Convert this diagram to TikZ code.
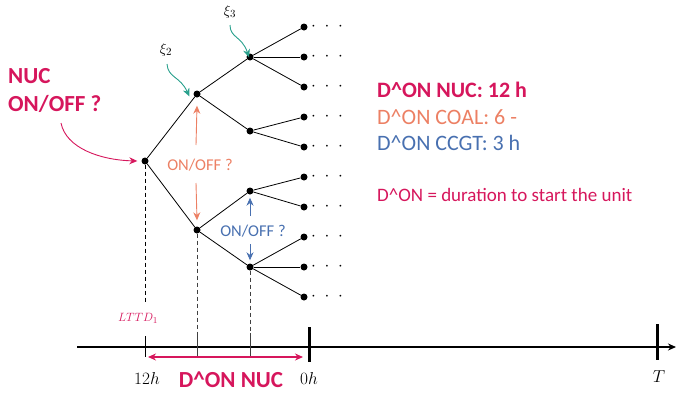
\documentclass[tikz,border=0pt]{standalone}
\usepackage{fontspec}
\setmainfont{Carlito}
\usetikzlibrary{arrows.meta}
\definecolor{nucred}{RGB}{214,22,92}
\definecolor{coalor}{RGB}{236,128,100}
\definecolor{ccgtbl}{RGB}{72,112,176}
\definecolor{tealc}{RGB}{40,160,140}
\tikzset{
  dotnode/.style={circle,fill=black,inner sep=0pt,minimum size=7pt},
  branch/.style={line width=0.8pt},
  dropline/.style={dashed,line width=0.8pt,black!75,dash pattern=on 4pt off 3pt},
  tickline/.style={line width=0.8pt},
  thicktick/.style={line width=3pt},
  moredots/.style={anchor=west,inner sep=0pt,font=\fontsize{16}{18}\selectfont},
  txtred/.style={text=nucred,font=\fontsize{23}{27}\selectfont\bfseries},
  pointer/.style={-{Stealth[length=8pt,width=7pt]},line width=0.9pt},
  onoff/.style={font=\fontsize{16.5}{19}\selectfont},
  mathlab/.style={font=\fontsize{16}{18}\selectfont},
  legend/.style={anchor=west,inner sep=0pt,font=\fontsize{22}{26}\selectfont},
}
\begin{document}
\begin{tikzpicture}[x=1pt,y=-1pt]
\useasboundingbox (0,0) rectangle (676,397);
% tree nodes
\node[dotnode] (r) at (145,161) {};
\node[dotnode] (a) at (197,94) {};
\node[dotnode] (b) at (197,230) {};
\node[dotnode] (aa) at (250,57) {};
\node[dotnode] (ab) at (250,131) {};
\node[dotnode] (ba) at (250,191) {};
\node[dotnode] (bb) at (250,267) {};
\foreach \i/\y in {1/27,2/57,3/87,4/117,5/147,6/177,7/207,8/237,9/267,10/297}{
  \node[dotnode] (l\i) at (304,\y) {};
  \node[moredots] (d\i) at (311,\y) {$\cdot\;\cdot\;\cdot$};
}
\draw[branch] (r) -- (a);
\draw[branch] (r) -- (b);
\draw[branch] (a) -- (aa);
\draw[branch] (a) -- (ab);
\draw[branch] (b) -- (ba);
\draw[branch] (b) -- (bb);
\draw[branch] (aa) -- (l1);
\draw[branch] (aa) -- (l2);
\draw[branch] (aa) -- (l3);
\draw[branch] (ab) -- (l4);
\draw[branch] (ab) -- (l5);
\draw[branch] (ba) -- (l6);
\draw[branch] (ba) -- (l7);
\draw[branch] (bb) -- (l8);
\draw[branch] (bb) -- (l9);
\draw[branch] (bb) -- (l10);
% time axis
\coordinate (ax0) at (77,347);
\coordinate (ax1) at (676,347);
\draw[line width=1.6pt,-{Stealth[length=8pt,width=7pt]}] (ax0) -- (ax1);
% dashed drops
\coordinate (rt) at (145,303);
\coordinate (bt) at (197,333);
\coordinate (bbt) at (250,333);
\draw[dropline,black] (r) -- (rt);
\draw[dropline] (b) -- (bt);
\draw[dropline] (bb) -- (bbt);
% ticks
\coordinate (t1a) at (145,336); \coordinate (t1b) at (145,357);
\coordinate (t2a) at (197,333); \coordinate (t2b) at (197,357);
\coordinate (t3a) at (250,333); \coordinate (t3b) at (250,357);
\draw[tickline] (t1a) -- (t1b);
\draw[tickline,black!75] (t2a) -- (t2b);
\draw[tickline,black!75] (t3a) -- (t3b);
\coordinate (z0a) at (309,327); \coordinate (z0b) at (309,362);
\coordinate (tTa) at (657,324); \coordinate (tTb) at (657,360);
\draw[thicktick] (z0a) -- (z0b);
\draw[thicktick] (tTa) -- (tTb);
% axis labels
\node[text=nucred,font=\fontsize{12.5}{14}\selectfont] (lttd) at (138,318) {$LTTD_1$};
\node[mathlab] (h12) at (147,378) {$12h$};
\node[mathlab] (h0) at (309,378) {$0h$};
\node[mathlab] (tT) at (659,377) {$T$};
% D^ON NUC span
\coordinate (s0) at (148,357);
\coordinate (s1) at (303,357);
\draw[nucred,line width=1.6pt,{Stealth[length=8pt,width=7pt]}-{Stealth[length=8pt,width=7pt]}] (s0) -- (s1);
\node[txtred] (donnuc) at (231,380) {D\^{}ON NUC};
% NUC ON/OFF ?
\node[txtred,anchor=west,align=left,inner sep=0pt] (nuc) at (8,90) {NUC\\[1pt]ON/OFF ?};
\coordinate (nucs) at (61,123);
\draw[nucred,pointer] (nucs) .. controls (66,148) and (100,160) .. ([xshift=-4pt]r.west);
% xi labels
\node[font=\fontsize{15}{17}\selectfont] (xi2) at (166,50) {$\xi_2$};
\node[font=\fontsize{15}{17}\selectfont] (xi3) at (230,12) {$\xi_3$};
\coordinate (x2s) at (167,64);
\coordinate (x3s) at (230,25);
\draw[tealc,pointer] (x2s) .. controls (168,78) and (180,76) .. ([shift={(-5pt,-5pt)}]a.north west);
\draw[tealc,pointer] (x3s) .. controls (230,38) and (242,36) .. ([shift={(-1pt,-4pt)}]aa.north);
% COAL on/off
\node[onoff,text=coalor] (coal) at (200,165) {ON/OFF ?};
\coordinate (c1) at (196,145);
\coordinate (c2) at (196,183);
\draw[coalor,pointer] (c1) -- ([yshift=-8pt]a.south);
\draw[coalor,pointer] (c2) -- ([yshift=6pt]b.north);
% CCGT on/off
\node[onoff,text=ccgtbl] (ccgt) at (253,231) {ON/OFF ?};
\coordinate (g1) at (250,216);
\coordinate (g2) at (250,244);
\draw[ccgtbl,pointer] (g1) -- ([yshift=-3pt]ba.south);
\draw[ccgtbl,pointer] (g2) -- ([yshift=3pt]bb.north);
% legend
\node[legend,text=nucred,font=\fontsize{22}{26}\selectfont\bfseries] (leg1) at (377,90) {D\^{}ON NUC: 12 h};
\node[legend,text=coalor] (leg2) at (377,117) {D\^{}ON COAL: 6 -};
\node[legend,text=ccgtbl] (leg3) at (377,143) {D\^{}ON CCGT: 3 h};
\node[legend,text=nucred,font=\fontsize{19}{22}\selectfont] (leg4) at (377,195) {D\^{}ON = duration to start the unit};
\end{tikzpicture}
\end{document}
